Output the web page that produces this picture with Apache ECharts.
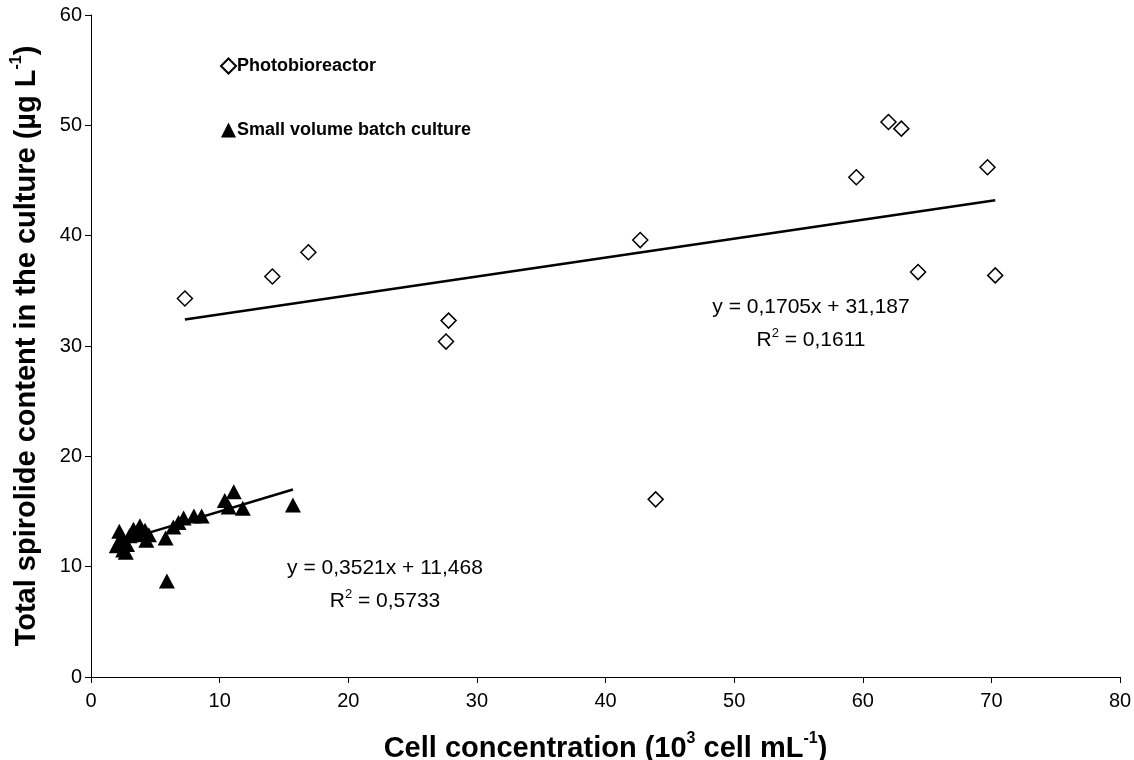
<!DOCTYPE html>
<html>
<head>
<meta charset="utf-8">
<script src="https://cdn.jsdelivr.net/npm/echarts@6/dist/echarts.min.js"></script>
<style>html,body{margin:0;padding:0;background:#fff}#c{width:1134px;height:760px}</style>
</head>
<body>
<div id="c"></div>
<script>
// Photobioreactor data (cell conc. 10^3 cell/mL, spirolide µg/L)
var photoX = [7.3, 14.1, 16.9, 27.6, 27.8, 42.7, 43.9, 59.5, 62.0, 63.0, 64.3, 69.7, 70.3];
var photoY = [34.3, 36.3, 38.5, 30.4, 32.3, 39.6, 16.1, 45.3, 50.3, 49.7, 36.7, 46.2, 36.4];
// Small volume batch culture data
var batchX = [2.0, 2.2, 2.3, 2.5, 2.7, 2.8, 3.0, 3.3, 3.6, 3.8, 4.2, 4.3, 4.5, 5.8, 5.9, 6.4, 6.8, 7.2, 8.0, 8.6, 10.4, 10.7, 11.1, 11.8, 15.7];
var batchY = [11.9, 13.2, 12.5, 11.5, 11.3, 12.0, 12.8, 13.4, 12.9, 13.7, 13.3, 12.4, 12.9, 12.6, 8.7, 13.6, 14.0, 14.4, 14.6, 14.6, 16.0, 15.4, 16.8, 15.3, 15.6];
// Trend line end points
var photoTrendX = [7.3, 70.3];
var photoTrendY = [32.4, 43.2];
var batchTrendX = [2.0, 15.7];
var batchTrendY = [12.2, 17.0];
// Axis ticks
var xTicks = [0, 10, 20, 30, 40, 50, 60, 70, 80];
var yTicks = [0, 10, 20, 30, 40, 50, 60];
var seriesNames = ['Photobioreactor', 'Small volume batch culture'];
var eqPhoto = ['y = 0,1705x + 31,187', '0,1611'];
var eqBatch = ['y = 0,3521x + 11,468', '0,5733'];

function zip(a, b) { return a.map(function (v, i) { return [v, b[i]]; }); }

var chart = echarts.init(document.getElementById('c'));
var FONT = '"Liberation Sans", Arial, sans-serif';
var titleRich = {
  b: { fontFamily: FONT, fontWeight: 'bold', fontSize: 29, color: '#000', lineHeight: 32, verticalAlign: 'bottom' },
  s: { fontFamily: FONT, fontWeight: 'bold', fontSize: 16, color: '#000', lineHeight: 32, verticalAlign: 'top' }
};
var eqRich = {
  n: { fontFamily: FONT, fontSize: 21, lineHeight: 24, verticalAlign: 'bottom', color: '#000' },
  s: { fontFamily: FONT, fontSize: 13, lineHeight: 24, verticalAlign: 'top', color: '#000' }
};
var option = {
  backgroundColor: '#fff',
  animation: false,
  grid: { left: 91, right: 14, top: 15, bottom: 83, containLabel: false, outerBoundsMode: 'none' },
  legend: {
    data: seriesNames,
    orient: 'vertical',
    left: 215,
    top: 52,
    itemGap: 46,
    itemWidth: 15,
    itemHeight: 15,
    textStyle: { fontFamily: FONT, fontWeight: 'bold', fontSize: 18, color: '#000', padding: [0, 0, 0, -4] }
  },
  xAxis: {
    type: 'value', min: xTicks[0], max: xTicks[xTicks.length - 1], interval: 10,
    axisLine: { lineStyle: { color: '#000', width: 1 } },
    axisTick: { show: true, length: 6, lineStyle: { color: '#000' } },
    axisLabel: { color: '#000', fontFamily: FONT, fontSize: 20, margin: 14 },
    splitLine: { show: false },
    name: '{b|Cell concentration (10}{s|3}{b| cell mL}{s|-1}{b|)}',
    nameLocation: 'middle', nameGap: 54,
    nameTextStyle: { rich: titleRich }
  },
  yAxis: {
    type: 'value', min: yTicks[0], max: yTicks[yTicks.length - 1], interval: 10,
    axisLine: { show: true, lineStyle: { color: '#000', width: 1 } },
    axisTick: { show: true, length: 6, lineStyle: { color: '#000' } },
    axisLabel: { color: '#000', fontFamily: FONT, fontSize: 20, margin: 9 },
    splitLine: { show: false },
    name: '{b|Total spirolide content in the culture (µg L}{s|-1}{b|)}',
    nameLocation: 'middle', nameGap: 50, nameRotate: 90,
    nameTextStyle: { rich: titleRich }
  },
  series: [
    {
      name: seriesNames[0], type: 'scatter', data: zip(photoX, photoY),
      symbol: 'diamond', symbolSize: 15,
      itemStyle: { color: '#fff', borderColor: '#000', borderWidth: 1.5, opacity: 1 }, z: 3
    },
    {
      name: seriesNames[1], type: 'scatter', data: zip(batchX, batchY),
      symbol: 'triangle', symbolSize: [16, 15],
      itemStyle: { color: '#000', borderColor: '#000', borderWidth: 0, opacity: 1 }, z: 3
    },
    {
      name: 'trend1', type: 'line', data: zip(photoTrendX, photoTrendY),
      symbol: 'none', lineStyle: { color: '#000', width: 2.5 }, z: 2, silent: true
    },
    {
      name: 'trend2', type: 'line', data: zip(batchTrendX, batchTrendY),
      symbol: 'none', lineStyle: { color: '#000', width: 2.5 }, z: 4, silent: true
    }
  ],
  graphic: [
    { type: 'text', x: 811, y: 306, style: { text: '{n|' + eqPhoto[0] + '}', rich: eqRich, align: 'center', verticalAlign: 'middle' } },
    { type: 'text', x: 811, y: 339, style: { text: '{n|R}{s|2}{n| = ' + eqPhoto[1] + '}', rich: eqRich, align: 'center', verticalAlign: 'middle' } },
    { type: 'text', x: 385, y: 567, style: { text: '{n|' + eqBatch[0] + '}', rich: eqRich, align: 'center', verticalAlign: 'middle' } },
    { type: 'text', x: 385, y: 600, style: { text: '{n|R}{s|2}{n| = ' + eqBatch[1] + '}', rich: eqRich, align: 'center', verticalAlign: 'middle' } }
  ]
};
chart.setOption(option);
</script>
</body>
</html>
